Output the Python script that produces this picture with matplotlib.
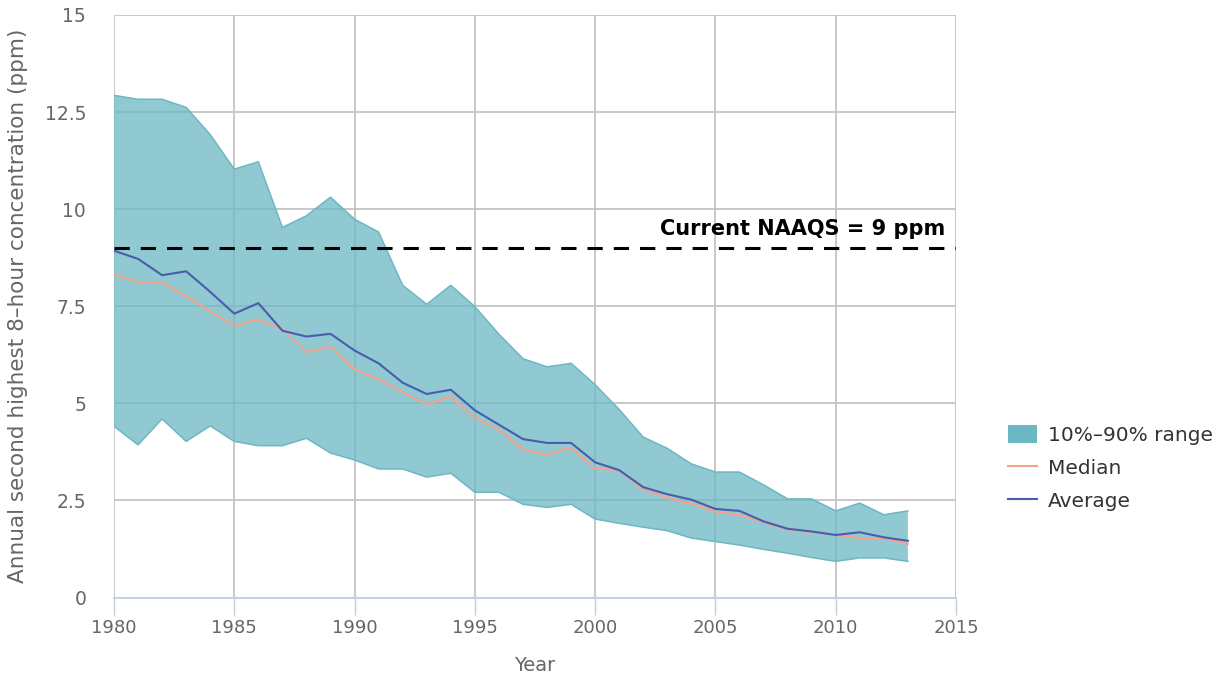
import matplotlib.pyplot as plt
from matplotlib.patches import Patch
from matplotlib.lines import Line2D

years = list(range(1980, 2014))

p90 = [12.93, 12.83, 12.83, 12.62, 11.92, 11.03, 11.22, 9.53, 9.83, 10.31,
       9.74, 9.41, 8.04, 7.55, 8.04, 7.49, 6.78, 6.15, 5.94, 6.03,
       5.48, 4.84, 4.13, 3.84, 3.44, 3.23, 3.23, 2.90, 2.54, 2.54,
       2.23, 2.43, 2.13, 2.23]

p10 = [4.41, 3.93, 4.60, 4.02, 4.42, 4.02, 3.91, 3.91, 4.10, 3.72,
       3.54, 3.31, 3.31, 3.10, 3.20, 2.71, 2.71, 2.40, 2.32, 2.40,
       2.02, 1.91, 1.81, 1.72, 1.53, 1.44, 1.35, 1.24, 1.14, 1.03,
       0.93, 1.02, 1.02, 0.93]

median = [8.32, 8.12, 8.12, 7.76, 7.37, 7.00, 7.16, 6.92, 6.32, 6.46,
          5.88, 5.62, 5.29, 4.97, 5.18, 4.62, 4.32, 3.82, 3.67, 3.86,
          3.32, 3.28, 2.79, 2.56, 2.42, 2.21, 2.13, 1.94, 1.75, 1.68,
          1.61, 1.53, 1.53, 1.38]

average = [8.93, 8.72, 8.30, 8.40, 7.87, 7.31, 7.58, 6.87, 6.72, 6.79,
           6.36, 6.03, 5.53, 5.24, 5.35, 4.82, 4.45, 4.08, 3.98, 3.98,
           3.48, 3.28, 2.84, 2.66, 2.52, 2.28, 2.23, 1.96, 1.77, 1.70,
           1.61, 1.68, 1.55, 1.46]

naaqs = 9
x_ticks = [1980, 1985, 1990, 1995, 2000, 2005, 2010, 2015]
y_ticks = [0, 2.5, 5, 7.5, 10, 12.5, 15]
y_tick_labels = ['0', '2.5', '5', '7.5', '10', '12.5', '15']

band_color = '#6BB8C4'
median_color = '#F4A28E'
avg_color = '#4A5CAD'
grid_color = '#C4C4C4'
text_grey = '#666666'

plt.rcParams['font.family'] = ['DejaVu Sans']

fig = plt.figure(figsize=(12.26, 6.76), dpi=100)
ax = fig.add_axes([114 / 1226, 1 - 597.5 / 676, (956 - 114) / 1226, (597.5 - 15) / 676])

ax.fill_between(years, p10, p90, facecolor=band_color, alpha=0.75,
                edgecolor='none', zorder=2)
ax.plot(years, p90, color=band_color, lw=1.1, zorder=3)
ax.plot(years, p10, color=band_color, lw=1.1, zorder=3)
ax.plot(years, median, color=median_color, lw=1.5, zorder=4)
ax.plot(years, average, color=avg_color, lw=1.5, zorder=5)

ax.axhline(naaqs, color='black', lw=2.2, dashes=(5, 3.6), zorder=6)
ax.text(2014.55, naaqs + 0.22, 'Current NAAQS = 9 ppm', ha='right', va='bottom',
        fontsize=15, fontweight='bold', color='black', zorder=7)

ax.set_xlim(1980, 2015)
ax.set_ylim(0, 15)
ax.set_xticks(x_ticks)
ax.set_yticks(y_ticks)
ax.set_yticklabels(y_tick_labels)

ax.grid(True, color=grid_color, lw=1.3, zorder=0)
ax.set_axisbelow(True)
for side in ['top', 'right', 'left']:
    ax.spines[side].set_visible(False)
ax.spines['bottom'].set_color('#C0D0E0')
ax.spines['bottom'].set_linewidth(1.3)
ax.spines['bottom'].set_zorder(8)

ax.tick_params(axis='x', length=12.5, width=1, color='#C0D0E0', pad=3,
               labelsize=13, labelcolor=text_grey)
ax.tick_params(axis='y', length=0, pad=20, labelsize=13.5, labelcolor=text_grey)

ax.set_xlabel('Year', fontsize=14, color=text_grey, labelpad=14)
ax.set_ylabel('Annual second highest 8\u2013hour concentration (ppm)',
              fontsize=15.5, color=text_grey, labelpad=12)

handles = [
    Patch(facecolor=band_color, edgecolor='none', label='10%\u201390% range'),
    Line2D([0], [0], color=median_color, lw=1.5, label='Median'),
    Line2D([0], [0], color=avg_color, lw=1.5, label='Average'),
]
fig.legend(handles=handles, loc='center left', bbox_to_anchor=(0.8075, 0.308),
           frameon=False, fontsize=14.5, labelcolor='#333333',
           handlelength=1.44, handleheight=1.05, handletextpad=0.55,
           labelspacing=0.64)

fig.savefig('out.png', dpi=100)
